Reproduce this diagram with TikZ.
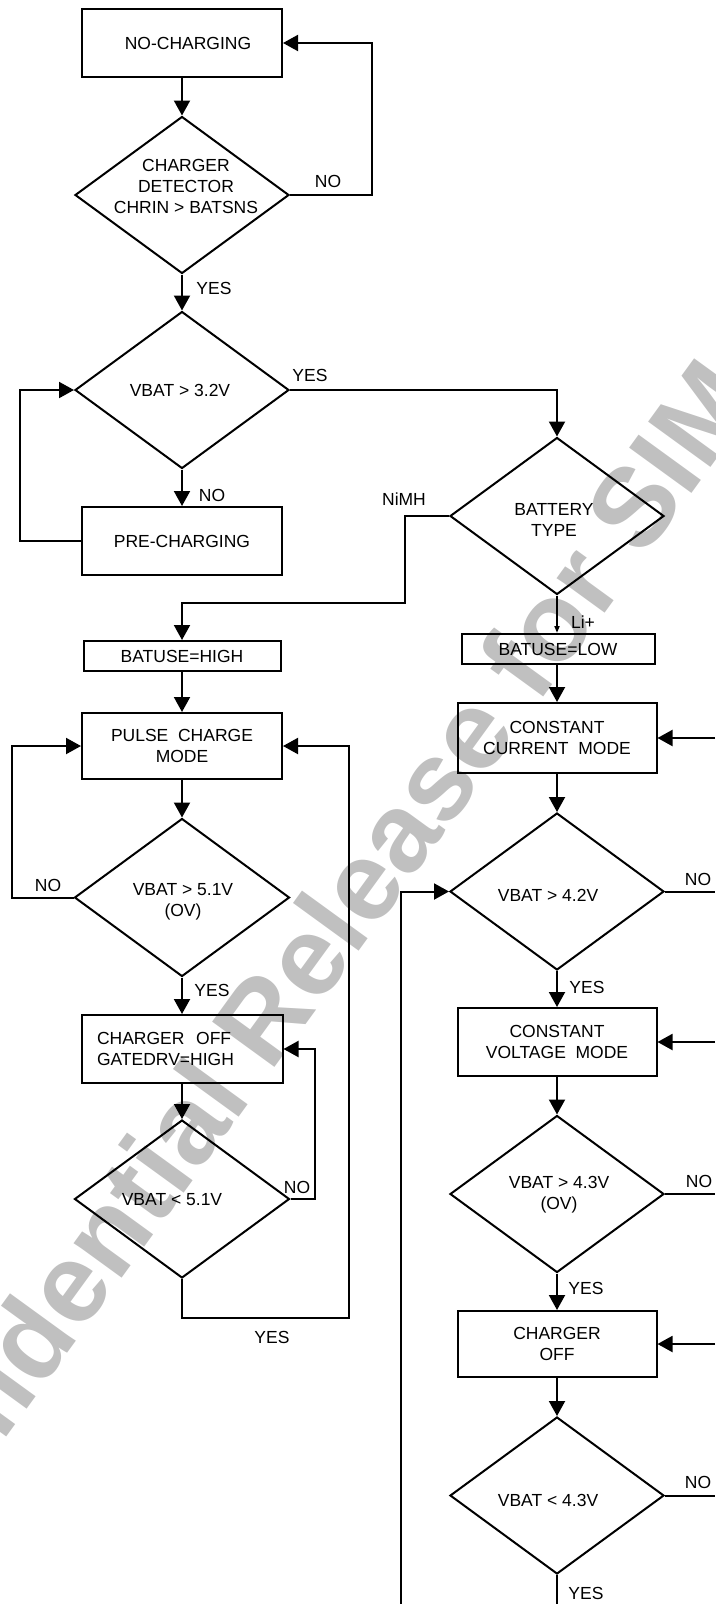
\documentclass[tikz,border=0pt]{standalone}
\usepackage{fontspec}
\setmainfont{Liberation Sans}
\usetikzlibrary{arrows.meta,shapes.geometric}
\definecolor{wmgray}{RGB}{192,192,192}

\begin{document}
\begin{tikzpicture}[x=1pt, y=-1pt,
  >={Triangle[length=15pt,width=16pt]},
  every node/.style={font=\fontsize{17.5}{21}\selectfont},
  box/.style={draw, line width=2pt, align=center, inner sep=0pt},
  dia/.style={draw, diamond, line width=2pt, inner sep=0pt, minimum width=214pt, minimum height=157pt},
  txt/.style={align=center, inner sep=0pt},
  lbl/.style={inner sep=0pt},
  conn/.style={line width=2pt},
  flow/.style={->, line width=2pt},
  thin/.style={-{Triangle[length=7pt,width=5pt]}, line width=2pt}]
  \useasboundingbox (0,0) rectangle (715,1604);
  \clip (0,0) rectangle (715,1604);
  % watermark
  \node[rotate=54, anchor=base west, inner sep=0pt, text=wmgray,
    font=\fontsize{112}{112}\selectfont\bfseries] (wmark) at (-128,1622) {Confidential Release for SIM};

  % left column
  \node[box, minimum width=200pt, minimum height=68pt] (nochg) at (182,43) {\hspace*{12pt}NO-CHARGING};
  \node[dia] (chgdet) at (182,195) {};
  \node[txt] (chgdet-t) at (186,186) {CHARGER\\DETECTOR\\CHRIN > BATSNS};
  \node[dia] (vbat32) at (182,390) {};
  \node[txt] (vbat32-t) at (180,390) {VBAT > 3.2V};
  \node[box, minimum width=200pt, minimum height=68pt] (prechg) at (182,541) {PRE-CHARGING};
  \node[box, minimum width=197pt, minimum height=30pt] (usehi) at (182,656) {BATUSE=HIGH};
  \node[box, minimum width=200pt, minimum height=66pt] (pulse) at (182,746) {PULSE~~CHARGE\\MODE};
  \node[dia, minimum width=215pt, minimum height=158pt] (ov51) at (182,897.5) {};
  \node[txt] (ov51-t) at (183,902) {VBAT > 5.1V\\(OV)};
  \node[box, minimum width=201pt, minimum height=68pt, text width=170pt, align=left] (off1) at (182,1049) {CHARGER~~OFF\\GATEDRV=HIGH};
  \node[dia, minimum width=215pt, minimum height=158pt] (lt51) at (182,1199) {};
  \node[txt] (lt51-t) at (172,1200) {VBAT < 5.1V};

  % right column
  \node[dia] (battype) at (557,516) {};
  \node[txt] (battype-t) at (554,520) {BATTERY\\TYPE};
  \node[box, minimum width=193pt, minimum height=30pt] (uselo) at (558,649) {BATUSE=LOW};
  \node[box, minimum width=199pt, minimum height=70pt] (ccmode) at (557,738) {CONSTANT\\CURRENT~~MODE};
  \node[dia] (gt42) at (557,891.5) {};
  \node[txt] (gt42-t) at (548,895) {VBAT > 4.2V};
  \node[box, minimum width=199pt, minimum height=68pt] (cvmode) at (557,1042) {CONSTANT\\VOLTAGE~~MODE};
  \node[dia] (gt43) at (557,1194) {};
  \node[txt] (gt43-t) at (559,1195) {VBAT > 4.3V\\(OV)};
  \node[box, minimum width=199pt, minimum height=66pt] (off2) at (557,1344) {CHARGER\\OFF};
  \node[dia] (lt43) at (557,1495.5) {};
  \node[txt] (lt43-t) at (548,1500) {VBAT < 4.3V};

  % labels
  \node[lbl] (no1) at (328,181) {NO};
  \node[lbl] (yes1) at (214,288) {YES};
  \node[lbl] (yes2) at (310,375) {YES};
  \node[lbl] (no2) at (212,495) {NO};
  \node[lbl] (nimh) at (404,499) {NiMH};
  \node[lbl] (liion) at (583,622) {Li+};
  \node[lbl] (no3) at (48,885) {NO};
  \node[lbl] (yes3) at (212,990) {YES};
  \node[lbl] (no4) at (297,1187) {NO};
  \node[lbl] (yes4) at (272,1337) {YES};
  \node[lbl] (no5) at (698,879) {NO};
  \node[lbl] (yes5) at (587,987) {YES};
  \node[lbl] (no6) at (699,1181) {NO};
  \node[lbl] (yes6) at (586,1288) {YES};
  \node[lbl] (no7) at (698,1482) {NO};
  \node[lbl] (yes7) at (586,1593) {YES};

  \coordinate (rim) at (715,0);
  \coordinate (floor) at (0,1604);
  \coordinate (loopin) at (401,1604);

  % left connectors
  \draw[flow] (nochg.south) -- (chgdet.north);
  \draw[flow] (chgdet.east) -- ++(82,0) |- (nochg.east);
  \draw[flow] (chgdet.south) -- (vbat32.north);
  \draw[flow] (vbat32.east) -| (battype.north);
  \draw[flow] (vbat32.south) -- (prechg.north);
  \draw[flow] (prechg.west) -- ++(-61,0) |- (vbat32.west);
  \draw[flow] (battype.west) -| (404.5,602.7) -| (usehi.north);
  \draw[flow] (usehi.south) -- (pulse.north);
  \draw[flow] (pulse.south) -- (ov51.north);
  \draw[flow] (ov51.west) -- ++(-62,0) |- (pulse.west);
  \draw[flow] (ov51.south) -- (off1.north);
  \draw[flow] (off1.south) -- (lt51.north);
  \draw[flow] (lt51.east) -- ++(24,0) |- (off1.east);
  \draw[flow] (lt51.south) |- (349,1318) |- (pulse.east);

  % right connectors
  \draw[thin] (battype.south) -- (battype.south |- uselo.north);
  \draw[flow] (uselo.south -| ccmode.north) -- (ccmode.north);
  \draw[flow] (ccmode.east -| rim) -- (ccmode.east);
  \draw[flow] (ccmode.south) -- (gt42.north);
  \draw[conn] (gt42.east) -- (gt42.east -| rim);
  \draw[flow] (gt42.south) -- (cvmode.north);
  \draw[flow] (cvmode.east -| rim) -- (cvmode.east);
  \draw[flow] (cvmode.south) -- (gt43.north);
  \draw[conn] (gt43.east) -- (gt43.east -| rim);
  \draw[flow] (gt43.south) -- (off2.north);
  \draw[flow] (off2.east -| rim) -- (off2.east);
  \draw[flow] (off2.south) -- (lt43.north);
  \draw[conn] (lt43.east) -- (lt43.east -| rim);
  \draw[conn] (lt43.south) -- (lt43.south |- floor);
  \draw[flow] (loopin) |- (gt42.west);
\end{tikzpicture}
\end{document}
